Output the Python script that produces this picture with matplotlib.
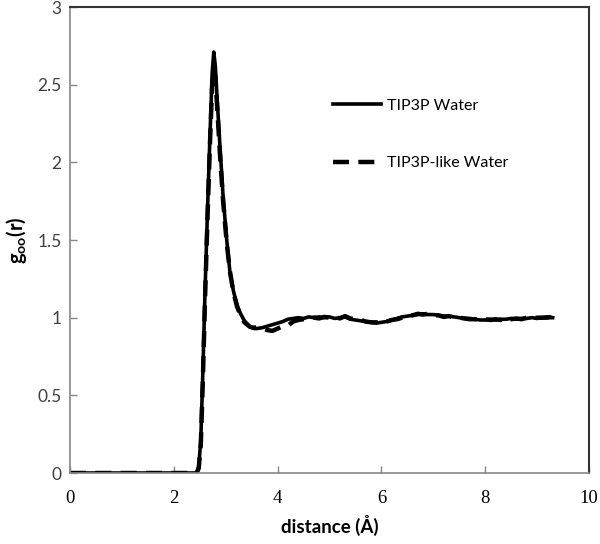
import matplotlib
matplotlib.use("Agg")
import matplotlib.pyplot as plt
import numpy as np

# ---- data ----
peak_x = [0.0, 2.40, 2.44, 2.48, 2.52, 2.56, 2.60, 2.65, 2.70, 2.74, 2.77, 2.80,
          2.84, 2.89, 2.95, 3.02, 3.08, 3.15, 3.22, 3.28, 3.36, 3.47, 3.55]
tip3p_peak = [0.0, 0.0, 0.0, 0.04, 0.21, 0.65, 1.15, 1.70, 2.20, 2.58, 2.71, 2.62,
              2.38, 2.10, 1.78, 1.50, 1.30, 1.17, 1.08, 1.03, 0.98, 0.94, 0.93]
like_peak = [0.0, 0.0, 0.0, 0.03, 0.18, 0.60, 1.10, 1.65, 2.15, 2.50, 2.60, 2.55,
             2.33, 2.05, 1.75, 1.48, 1.30, 1.16, 1.07, 1.02, 0.97, 0.94, 0.935]

tail_x = [3.6, 3.7, 3.8, 3.9, 4.0, 4.1, 4.2, 4.3, 4.4, 4.5, 4.6, 4.7, 4.8, 4.9,
          5.0, 5.1, 5.2, 5.3, 5.4, 5.5, 5.6, 5.7, 5.8, 5.9, 6.0, 6.1, 6.2, 6.3,
          6.4, 6.5, 6.6, 6.7, 6.8, 6.9, 7.0, 7.1, 7.2, 7.3, 7.4, 7.5, 7.6, 7.7,
          7.8, 7.9, 8.0, 8.1, 8.2, 8.3, 8.4, 8.5, 8.6, 8.7, 8.8, 8.9, 9.0, 9.1,
          9.2, 9.3]
tip3p_tail = [0.93, 0.935, 0.945, 0.955, 0.965, 0.975, 0.99, 0.995, 1.0, 0.995,
              1.005, 1.0, 1.005, 1.0, 1.005, 0.995, 1.0, 1.005, 0.99, 0.985,
              0.98, 0.975, 0.97, 0.965, 0.97, 0.975, 0.985, 0.995, 1.005, 1.01,
              1.015, 1.02, 1.025, 1.02, 1.02, 1.015, 1.01, 1.01, 1.005, 1.0,
              0.995, 0.995, 0.99, 0.985, 0.985, 0.99, 0.985, 0.99, 0.99, 0.995,
              0.99, 0.995, 0.995, 1.0, 0.995, 1.0, 1.005, 1.0]
like_tail = [0.94, 0.93, 0.92, 0.915, 0.93, 0.945, 0.95, 0.975, 0.985, 0.99,
             0.995, 1.0, 0.995, 1.005, 1.0, 1.005, 0.995, 1.01, 0.995, 0.99,
             0.985, 0.975, 0.97, 0.97, 0.965, 0.975, 0.985, 0.99, 1.0, 1.01,
             1.015, 1.025, 1.02, 1.025, 1.015, 1.015, 1.005, 1.01, 1.0, 1.0,
             0.995, 0.99, 0.99, 0.985, 0.99, 0.985, 0.99, 0.985, 0.995, 0.99,
             0.995, 0.99, 1.0, 0.995, 1.0, 1.0, 1.0, 1.005]

series_labels = ["TIP3P Water", "TIP3P-like Water"]
x_ticks = [0, 2, 4, 6, 8, 10]
y_ticks = [0, 0.5, 1, 1.5, 2, 2.5, 3]
x_label = "distance (Å)"

# ---- plot ----
plt.rcParams['mathtext.fontset'] = 'custom'
plt.rcParams['mathtext.rm'] = 'Lato'
plt.rcParams['mathtext.bf'] = 'Lato:bold'
plt.rcParams['mathtext.it'] = 'Lato:italic'

fig = plt.figure(figsize=(6.0, 5.44), dpi=100)
ax = fig.add_axes([70/600, 1-473/544, 519/600, 466/544])

x1 = peak_x + tail_x
ax.plot(x1, tip3p_peak + tip3p_tail, color='black', lw=2.6,
        solid_joinstyle='round', label=series_labels[0])
ax.plot(x1, like_peak + like_tail, color='black', lw=3.2,
        linestyle=(0, (3.6, 2.1)), label=series_labels[1])

ax.set_xlim(0, 10)
ax.set_ylim(0, 3)
ax.set_xticks(x_ticks)
ax.set_yticks(y_ticks)
ax.set_xticklabels([str(v) for v in x_ticks], family='Liberation Serif',
                   fontsize=13.5, color='black')
ax.set_yticklabels([f"{v:g}" for v in y_ticks], family='Lato', fontsize=12.5,
                   color='#404040')
ax.tick_params(direction='in', length=5, width=1, color='#888888')
ax.tick_params(axis='x', pad=12)
ax.tick_params(axis='y', pad=6)

for s in ['left', 'bottom']:
    ax.spines[s].set_color('#888888')
    ax.spines[s].set_linewidth(1.2)
for s in ['top', 'right']:
    ax.spines[s].set_color('#333333')
    ax.spines[s].set_linewidth(1.5)

ax.set_xlabel(x_label, family='Lato', fontweight='bold', fontsize=13.5, labelpad=6)
ax.set_ylabel(r'$\mathbf{g}_{\mathbf{oo}}\mathbf{(r)}$', fontsize=14.5, labelpad=6)

leg = ax.legend(loc='center left', bbox_to_anchor=((333-70)/519, (473-134.5)/466),
                frameon=False, prop={'family': 'Lato', 'size': 11.5},
                handlelength=3.0, handletextpad=0.4, labelspacing=2.7,
                borderpad=0, borderaxespad=0)

fig.savefig('out.png', dpi=100)
